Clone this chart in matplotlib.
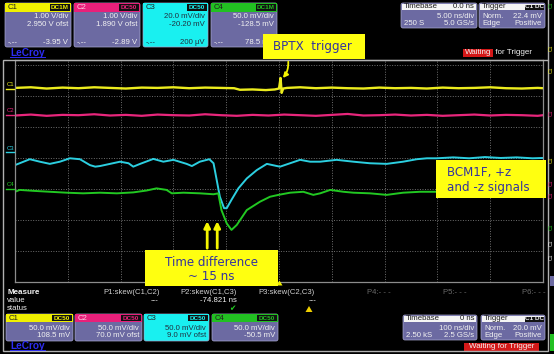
import matplotlib
matplotlib.use('Agg')
import matplotlib.pyplot as plt
from matplotlib.patches import Rectangle, FancyBboxPatch, Polygon

# ---------------- data (time in ns, amplitude in divisions) ----------------
time_ticks = [-500, -400, -300, -200, -100, 0, 100, 200, 300, 400, 500]
div_ticks = [-4, -3, -2, -1, 0, 1, 2, 3]

t_c1 = [-500,-470,-440,-410,-380,-350,-320,-290,-260,-230,-200,-170,-140,-110,
        -85,-74,-50,-25,-8,0,3,5,8,15,
        40,70,100,130,160,190,220,250,280,310,340,370,400,430,460,490,500]
v_c1 = [2.26,2.28,2.24,2.27,2.25,2.28,2.26,2.24,2.27,2.26,2.28,2.25,2.27,2.26,
        2.25,2.20,2.21,2.19,2.21,2.24,2.58,2.10,2.24,2.26,
        2.28,2.25,2.27,2.25,2.24,2.27,2.25,2.26,2.24,2.27,2.25,2.26,2.28,2.25,2.24,2.26,2.25]

t_c2 = [-500,-470,-440,-410,-380,-350,-320,-290,-260,-230,-200,-170,-140,-110,-80,-50,-20,
        10,40,70,100,130,160,190,220,250,280,310,340,370,400,430,460,490,500]
v_c2 = [1.37,1.40,1.36,1.39,1.38,1.41,1.37,1.39,1.36,1.40,1.38,1.37,1.41,1.38,1.36,1.39,1.37,
        1.40,1.38,1.36,1.39,1.42,1.37,1.38,1.40,1.37,1.39,1.36,1.38,1.40,1.37,1.39,1.38,1.36,1.38]

t_c3 = [-500,-472,-453,-434,-415,-396,-377,-358,-348,-339,-320,-301,-285,-276,-263,
        -238,-219,-200,-175,-165,-150,-132,-124,-118,-112,-104,-99,-90,-77,-61,
        -42,-23,-4,2,21,40,59,78,109,141,172,204,235,261,280,299,330,360,390,420,450,480,500]
v_c3 = [-0.23,-0.04,-0.12,-0.19,-0.12,-0.01,-0.04,-0.23,-0.28,-0.26,-0.19,-0.12,-0.17,-0.28,-0.19,
        -0.03,-0.12,-0.06,-0.19,-0.26,-0.12,-0.04,-0.17,-0.71,-1.25,-1.62,-1.62,-1.35,-0.98,-0.66,
        -0.39,-0.19,-0.26,-0.28,-0.17,-0.06,-0.12,-0.12,-0.06,-0.12,-0.17,-0.19,-0.12,-0.04,-0.01,
        -0.01,0.02,-0.01,0.03,0.0,0.02,-0.01,0.0]

t_c4 = [-500,-491,-465,-434,-402,-371,-339,-307,-276,-251,-232,-213,-203,-181,-150,
        -124,-115,-109,-99,-90,-80,-61,-36,-17,-1,21,46,65,78,97,122,141,172,204,235,
        267,299,350,400,450,500]
v_c4 = [-1.09,-1.03,-1.06,-1.09,-1.12,-1.14,-1.12,-1.14,-1.11,-1.05,-0.98,-1.03,-1.14,-1.12,-1.14,
        -1.17,-1.14,-1.68,-2.11,-2.32,-2.16,-1.68,-1.41,-1.25,-1.19,-1.12,-1.09,-1.19,-1.14,-1.03,
        -1.09,-1.12,-1.14,-1.19,-1.12,-1.09,-1.09,-1.11,-1.08,-1.10,-1.09]

arrow_times = [-136, -117]

# ---------------- figure ----------------
W, H = 554, 354
fig = plt.figure(figsize=(W/100, H/100), dpi=100, facecolor='black')

ax = fig.add_axes([15/W, (H-282)/H, 528/W, 222/H])
ax.set_facecolor('black')
ax.set_xlim(-500, 500)
ax.set_ylim(-4.0, 3.16)
ax.set_xticks(time_ticks)
ax.set_yticks(div_ticks)
ax.tick_params(length=0, labelbottom=False, labelleft=False)
ax.grid(True, color='#6f6f6f', lw=0.7, ls=(0, (1, 1.6)))
for s in ax.spines.values():
    s.set_color('#8c8c8c'); s.set_linewidth(0.9)

ax.plot(t_c1, v_c1, color='#ecec1e', lw=1.7)
ax.plot(t_c2, v_c2, color='#e8267c', lw=1.6)
ax.plot(t_c3, v_c3, color='#2ccfe0', lw=1.4)
ax.plot(t_c4, v_c4, color='#22c822', lw=1.4)

for ta in arrow_times:
    ax.annotate('', xy=(ta, -1.95), xytext=(ta, -3.0),
                arrowprops=dict(arrowstyle='-|>', color='#f4f400', lw=2.0, mutation_scale=9),
                zorder=6)

# ---------------- overlay in pixel coordinates ----------------
ov = fig.add_axes([0, 0, 1, 1], zorder=5)
ov.set_xlim(0, W); ov.set_ylim(H, 0); ov.axis('off'); ov.patch.set_visible(False)

FONT = ['Liberation Sans', 'DejaVu Sans']

def T(x, y, s, color='#f2f2f2', ha='left', fs=5.6, weight='normal', **kw):
    ov.text(x, y, s, color=color, ha=ha, va='center', fontsize=fs, family=FONT,
            fontweight=weight, **kw)

LAV = '#6c6aa2'

def chpanel(x0, x1, y0, tb, y1, title, tcol, badge, body, tx, lines, titletx='#202020'):
    ov.add_patch(FancyBboxPatch((x0, y0), x1-x0, y1-y0, boxstyle='round,pad=0,rounding_size=2',
                                fc=body, ec='#a8a8d0', lw=0.5))
    ov.add_patch(Rectangle((x0, y0), x1-x0, tb-y0, fc=tcol, ec='none'))
    T(x0+3, (y0+tb)/2, title, color=titletx, fs=5.6)
    ov.add_patch(Rectangle((x1-21, y0+1.2), 19.5, tb-y0-2.4, fc='#111111', ec='none'))
    T(x1-11.3, (y0+tb)/2, badge, color=tcol, ha='center', fs=4.6, weight='bold')
    for (yy, left, right) in lines:
        if left:
            T(x0+3, yy, left, color=tx)
        if right:
            T(x1-3, yy, right, color=tx, ha='right')

# top channel panels
chpanel(5, 71, 3, 12, 47, 'C1', '#f0f000', 'DC1M', LAV, '#f2f2f2',
        [(16.5, None, '1.00 V/div'), (24, None, '2.950 V ofst'), (43, '-.--', '-3.95 V')])
chpanel(74, 140, 3, 12, 47, 'C2', '#e8207a', 'DC50', LAV, '#f2f2f2',
        [(16.5, None, '1.00 V/div'), (24, None, '1.890 V ofst'), (43, '-.--', '-2.89 V')],
        titletx='#ffd0e6')
chpanel(143, 208, 3, 12, 47, 'C3', '#19f0f0', 'DC50', '#19f0f0', '#203040',
        [(16.5, None, '20.0 mV/div'), (24, None, '-20.20 mV'), (43, '-.--', '200 µV')])
chpanel(211, 277, 3, 12, 47, 'C4', '#22c022', 'DC1M', LAV, '#f2f2f2',
        [(16.5, None, '50.0 mV/div'), (24, None, '-128.5 mV'), (43, '-.--', '78.5 mV')])

# bottom channel panels
chpanel(6, 73, 314, 322, 341, 'C1', '#f0f000', 'DC50', LAV, '#f2f2f2',
        [(328, None, '50.0 mV/div'), (335.5, None, '108.5 mV')])
chpanel(75, 142, 314, 322, 341, 'C2', '#e8207a', 'DC50', LAV, '#f2f2f2',
        [(328, None, '50.0 mV/div'), (335.5, None, '70.0 mV ofst')], titletx='#ffd0e6')
chpanel(144, 209, 314, 322, 341, 'C3', '#19f0f0', 'DC50', '#19f0f0', '#203040',
        [(328, None, '50.0 mV/div'), (335.5, None, '9.0 mV ofst')])
chpanel(212, 278, 314, 322, 341, 'C4', '#22c022', 'DC50', LAV, '#f2f2f2',
        [(328, None, '50.0 mV/div'), (335.5, None, '-50.5 mV')])

def infopanel(x0, x1, y0, tb, y1, title, tright, badge, lines):
    ov.add_patch(FancyBboxPatch((x0, y0), x1-x0, y1-y0, boxstyle='round,pad=0,rounding_size=2',
                                fc=LAV, ec='#a8a8d0', lw=0.5))
    ov.add_patch(Rectangle((x0+1, y0+1), x1-x0-2, tb-y0-1, fc='#f4f4f4', ec='none'))
    T(x0+3, (y0+tb)/2+0.5, title, color='#1a1a1a')
    if tright:
        T(x1-3, (y0+tb)/2+0.5, tright, color='#1a1a1a', ha='right')
    if badge:
        ov.add_patch(Rectangle((x1-20, y0+1.5), 18.5, tb-y0-2, fc='#111111', ec='none'))
        T(x1-10.8, (y0+tb)/2+0.5, badge, color='#f2f2f2', ha='center', fs=4.6, weight='bold')
    for (yy, left, right) in lines:
        if left:
            T(x0+3, yy, left)
        if right:
            T(x1-3, yy, right, ha='right')

infopanel(401, 477, 3, 10, 28, 'Timebase', '0.0 ns', None,
          [(16, None, '5.00 ns/div'), (23.5, '250 S', '5.0 GS/s')])
infopanel(479, 545, 3, 10, 28, 'Trigger', None, 'C1 DC',
          [(16, 'Norm.', '22.4 mV'), (23.5, 'Edge', 'Positive')])
infopanel(403, 477, 315, 322, 340, 'Timebase', '0 ns', None,
          [(328, None, '100 ns/div'), (335.5, '2.50 kS', '2.5 GS/s')])
infopanel(481, 545, 315, 322, 340, 'Trigger', None, 'C1 DC',
          [(328, 'Norm.', '20.0 mV'), (335.5, 'Edge', 'Positive')])

# waiting for trigger
ov.add_patch(Rectangle((463, 49), 30, 8, fc='#d41818', ec='none'))
T(464.5, 53, 'Waiting', fs=5.8)
T(493, 53, ' for Trigger', fs=5.8)
ov.add_patch(Rectangle((464, 343), 75, 8, fc='#d41818', ec='none'))
T(501.5, 347, 'Waiting for Trigger', ha='center', fs=5.8)

# LeCroy logos
for yy in (52.5, 346):
    T(10, yy, 'LeCroy', color='#2d2df2', fs=7.3, weight='bold')
    ov.plot([10, 45], [yy+4, yy+4], color='#2d2df2', lw=0.7)

# frames
ov.add_patch(Rectangle((3, 60), 545, 291, fc='none', ec='#b0b0b0', lw=1.0))
ov.plot([548, 548], [0, 60], color='#b0b0b0', lw=1.0)

# channel markers on the left
for yl, lab, col in [(85, 'C1', '#ecec1e'), (111, 'C2', '#e8267c'),
                     (148, 'C3', '#2ccfe0'), (185, 'C4', '#22c822')]:
    T(6.5, yl, lab, color=col, fs=4.3)
    ov.plot([6, 14], [yl+3.5, yl+3.5], color=col, lw=1.0)

# trigger position marker
ov.add_patch(Polygon([[276.5, 285.5], [282.5, 285.5], [279.5, 280.5]], closed=True,
                     fc='#f0f000', ec='none'))

# measure area
T(7, 292, 'Measure', fs=5.8, weight='bold')
T(7, 300.5, 'value', fs=5.6)
T(7, 309, 'status', fs=5.6)
T(160, 292, 'P1:skew(C1,C2)', ha='right', color='#d0d0d0')
T(155, 300.5, '---', ha='center')
T(237, 292, 'P2:skew(C1,C3)', ha='right', color='#d0d0d0')
T(237, 300.5, '-74.821 ns', ha='right')
ov.text(232, 309, '✔', ha='center', va='center', color='#22cc22', fontsize=5.5,
        family=['DejaVu Sans'])
T(315, 292, 'P3:skew(C2,C3)', ha='right', color='#d0d0d0')
T(313, 300.5, '---', ha='center')
ov.add_patch(Polygon([[305.5, 312], [312.5, 312], [309, 306]], closed=True, fc='#f0d000', ec='none'))
T(367, 292, 'P4:- - -', color='#6a6a6a')
T(443, 292, 'P5:- - -', color='#6a6a6a')
T(522, 292, 'P6:- - -', color='#6a6a6a')

# right strip fragments from neighbouring screen
for yy, col in [(5, '#22c022'), (48, '#ecec1e'), (70, '#ecec1e'), (113, '#e8267c'),
                (160, '#ecec1e'), (183, '#e8267c'), (195, '#e8267c'), (227, '#22c822'),
                (243, '#f0f0f0'), (257, '#f0f0f0')]:
    ov.text(551.5, yy, 'C1', color=col, fontsize=3.6, rotation=90, ha='center', va='center',
            family=FONT)
ov.add_patch(Rectangle((550, 276), 4, 10, fc=LAV, ec='none'))
ov.add_patch(Rectangle((550, 334), 4, 17, fc='#22c022', ec='none'))

# annotation boxes
ANN = '#34349e'
AFONT = 'DejaVu Sans'
ov.add_patch(Rectangle((263, 34), 102, 25, fc='#ffff10', ec='none', zorder=7))
ov.text(312, 46.5, 'BPTX  trigger', color=ANN, fontsize=8.6, ha='center', va='center',
        family=AFONT, zorder=8)
ov.annotate('', xy=(281, 80), xytext=(288, 59),
            arrowprops=dict(arrowstyle='-|>', color='#f4f400', lw=1.3, mutation_scale=7,
                            connectionstyle='arc3,rad=-0.25'), zorder=8)

ov.add_patch(Rectangle((436, 160), 110, 38, fc='#ffff10', ec='none', zorder=7))
ov.text(447, 172.5, 'BCM1F, +z', color=ANN, fontsize=8.6, ha='left', va='center',
        family=AFONT, zorder=8)
ov.text(447, 187.5, 'and -z signals', color=ANN, fontsize=8.6, ha='left', va='center',
        family=AFONT, zorder=8)

ov.add_patch(Rectangle((145, 250), 133, 36, fc='#ffff10', ec='none', zorder=7))
ov.text(211.5, 262, 'Time difference', color=ANN, fontsize=8.6, ha='center', va='center',
        family=AFONT, zorder=8)
ov.text(211.5, 277, '~ 15 ns', color=ANN, fontsize=8.6, ha='center', va='center',
        family=AFONT, zorder=8)

fig.savefig('out.png', dpi=100, facecolor='black')
